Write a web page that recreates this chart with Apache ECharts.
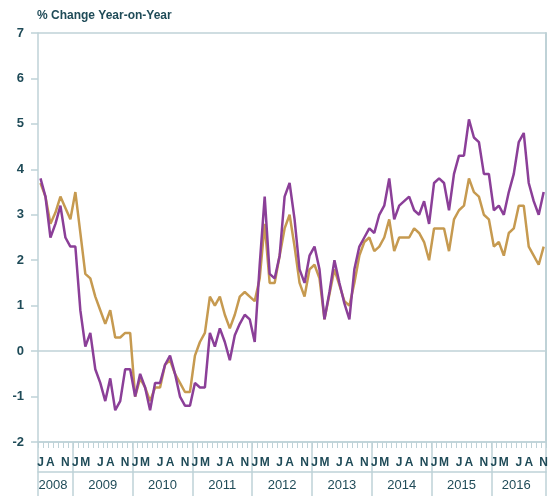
<!DOCTYPE html>
<html>
<head>
<meta charset="utf-8">
<script src="https://cdn.jsdelivr.net/npm/echarts@6/dist/echarts.min.js"></script>
<style>
  html, body { margin: 0; padding: 0; background: #fff; }
  #chart { width: 551px; height: 497px; }
</style>
</head>
<body>
<div id="chart"></div>
<script>
// monthly, Jun 2008 .. Nov 2016
const startYear = 2008
const startMonth = 5
const monthCount = 102

const purple = [
  3.8, 3.4, 2.5, 2.8, 3.2, 2.5, 2.3, 2.3, 0.9, 0.1, 0.4, -0.4,
  -0.7, -1.1, -0.6, -1.3, -1.1, -0.4, -0.4, -1.0, -0.5, -0.8, -1.3, -0.7,
  -0.7, -0.3, -0.1, -0.5, -1.0, -1.2, -1.2, -0.7, -0.8, -0.8, 0.4, 0.1,
  0.5, 0.2, -0.2, 0.35, 0.6, 0.8, 0.7, 0.2, 1.9, 3.4, 1.7, 1.6,
  2.1, 3.4, 3.7, 2.9, 1.8, 1.5, 2.1, 2.3, 1.8, 0.7, 1.3, 2.0,
  1.5, 1.05, 0.7, 1.8, 2.3, 2.5, 2.7, 2.6, 3.0, 3.2, 3.8, 2.9,
  3.2, 3.3, 3.4, 3.1, 3.0, 3.3, 2.8, 3.7, 3.8, 3.7, 3.1, 3.9,
  4.3, 4.3, 5.1, 4.7, 4.6, 3.9, 3.9, 3.1, 3.2, 3.0, 3.5, 3.9,
  4.6, 4.8, 3.7, 3.3, 3.0, 3.5
]

const gold = [
  3.7, 3.4, 2.8, 3.05, 3.4, 3.15, 2.9, 3.5, 2.6, 1.7, 1.6, 1.2,
  0.9, 0.6, 0.9, 0.3, 0.3, 0.4, 0.4, -1.0, -0.6, -0.8, -1.1, -0.8,
  -0.8, -0.3, -0.2, -0.5, -0.7, -0.9, -0.9, -0.1, 0.2, 0.4, 1.2, 1.0,
  1.2, 0.8, 0.5, 0.8, 1.2, 1.3, 1.2, 1.1, 1.6, 2.8, 1.5, 1.5,
  2.1, 2.7, 3.0, 2.3, 1.5, 1.2, 1.8, 1.9, 1.6, 0.7, 1.25, 1.8,
  1.45, 1.1, 1.0, 1.5, 2.1, 2.4, 2.5, 2.2, 2.3, 2.5, 2.9, 2.2,
  2.5, 2.5, 2.5, 2.7, 2.6, 2.4, 2.0, 2.7, 2.7, 2.7, 2.2, 2.9,
  3.1, 3.2, 3.8, 3.5, 3.4, 3.0, 2.9, 2.3, 2.4, 2.1, 2.6, 2.7,
  3.2, 3.2, 2.3, 2.1, 1.9, 2.3
]

// letters shown under the months (0 = Jan)
const monthLetters = { 0: 'J', 2: 'M', 5: 'J', 7: 'A', 10: 'N' }
const yearLabelMonth = { '2008': 8, '2016': 5 }

const categories = []
for (let i = 0; i < monthCount; i++) {
  const m = (startMonth + i) % 12
  const y = startYear + Math.floor((startMonth + i) / 12)
  categories.push(y + '-' + String(m + 1).padStart(2, '0'))
}

const ink = '#1f4b58'
const rule = '#bfd2d7'
const none = 'rgba(0,0,0,0)'
const font = "'Liberation Sans Narrow', 'Liberation Sans', sans-serif"
const monthOf = v => parseInt(v.slice(5), 10) - 1

const chart = echarts.init(document.getElementById('chart'))
chart.setOption({
  animation: false,
  title: {
    text: '% Change Year-on-Year',
    left: 32,
    top: 5,
    textStyle: { color: ink, fontSize: 12, fontWeight: 'bold', fontFamily: font }
  },
  grid: { left: 38, right: 3, top: 33, bottom: 55 },
  xAxis: [{
    type: 'category',
    data: categories,
    boundaryGap: true,
    axisLine: { show: true, onZero: false, lineStyle: { color: rule, width: 1.5 } },
    axisTick: { show: true, interval: 0, length: 6, lineStyle: { color: rule, width: 1 } },
    axisLabel: {
      interval: (i, v) => monthLetters[monthOf(v)] !== undefined,
      formatter: v => monthLetters[monthOf(v)],
      margin: 15,
      color: ink,
      fontSize: 12,
      fontWeight: 'bold',
      fontFamily: font
    },
    splitLine: { show: false }
  }, {
    type: 'category',
    data: categories,
    position: 'bottom',
    boundaryGap: true,
    axisLine: { show: false, onZero: false },
    axisTick: {
      show: true,
      interval: (i, v) => i === 0 || monthOf(v) === 0,
      length: 54,
      lineStyle: { color: rule, width: 1.5 }
    },
    axisLabel: {
      interval: (i, v) => {
        const y = v.slice(0, 4)
        const m = yearLabelMonth[y] !== undefined ? yearLabelMonth[y] : 6
        return monthOf(v) === m
      },
      formatter: v => v.slice(0, 4),
      margin: 37,
      padding: [0, 5, 0, 0],
      color: ink,
      fontSize: 13,
      fontFamily: font
    },
    splitLine: { show: false }
  }, {
    type: 'category',
    data: categories,
    position: 'bottom',
    offset: 30,
    axisLine: { show: true, onZero: false, lineStyle: { color: rule, width: 1.5 } },
    axisTick: { show: false },
    axisLabel: { show: false },
    splitLine: { show: false }
  }],
  yAxis: [{
    type: 'value',
    min: -2,
    max: 7,
    interval: 1,
    axisLine: { show: true, lineStyle: { color: rule, width: 1.5 } },
    axisTick: { show: true, length: 7, lineStyle: { color: rule, width: 1.5 } },
    axisLabel: { margin: 14, color: ink, fontSize: 13, fontWeight: 'bold', fontFamily: font },
    splitLine: {
      show: true,
      lineStyle: {
        color: [rule, none, rule, none, none, none, none, none, none, rule],
        width: 1.5
      }
    }
  }, {
    type: 'value',
    position: 'right',
    min: -2,
    max: 7,
    interval: 1,
    axisLine: { show: true, lineStyle: { color: rule, width: 2 } },
    axisTick: { show: false },
    axisLabel: { show: false },
    splitLine: { show: false }
  }],
  series: [{
    type: 'line',
    data: purple,
    showSymbol: false,
    lineStyle: { color: '#8b3f98', width: 2.5 },
    z: 3
  }, {
    type: 'line',
    data: gold,
    showSymbol: false,
    lineStyle: { color: '#c69a50', width: 2.5 },
    z: 2
  }]
})
</script>
</body>
</html>
